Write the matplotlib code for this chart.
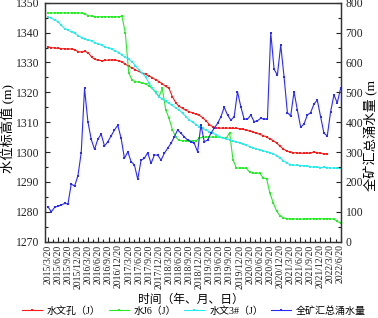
import numpy as np
import matplotlib
matplotlib.use('Agg')
import matplotlib.pyplot as plt
from matplotlib.ticker import MultipleLocator

plt.rcParams['font.family'] = ['Liberation Serif', 'Noto Sans CJK SC']

# quarterly tick labels
tick_labels = ['%d/%d/20' % (y, m) for y in range(2015, 2023) for m in (3, 6, 9, 12)]
tick_labels = tick_labels[:30]

# 水文孔(J) water level, monthly from 2015/3
red = [1335.1, 1335.0, 1334.8, 1334.7, 1334.6, 1334.6, 1334.5, 1334.5, 1334.2, 1333.6,
       1333.5, 1333.7, 1333.2, 1331.8, 1331.0, 1330.7, 1330.6, 1330.7, 1330.8, 1330.8,
       1330.8, 1330.6, 1330.2, 1329.4, 1328.7, 1328.2, 1327.5, 1327.0, 1326.5, 1326.0,
       1325.5, 1324.9, 1324.2, 1323.6, 1322.8, 1322.0, 1321.3, 1318.5, 1316.5, 1315.3,
       1314.6, 1314.0, 1313.5, 1313.1, 1312.7, 1312.3, 1311.5, 1310.5, 1309.2, 1308.5,
       1308.1, 1308.0, 1308.0, 1308.0, 1308.0, 1307.9, 1307.9, 1307.8, 1307.6, 1307.3,
       1307.0, 1306.7, 1306.3, 1305.9, 1305.5, 1305.0, 1304.4, 1303.8, 1303.0, 1302.0,
       1301.0, 1300.3, 1300.0, 1299.8, 1299.7, 1299.6, 1299.6, 1299.6, 1299.7, 1300.0,
       1299.8, 1299.6, 1299.4, 1299.3]

# 水J6(J)
green = [1346.4, 1346.6, 1346.6, 1346.6, 1346.6, 1346.6, 1346.6, 1346.6, 1346.6, 1346.6,
         1346.5, 1346.1, 1345.7, 1345.5, 1345.3, 1345.3, 1345.3, 1345.3, 1345.3, 1345.3,
         1345.3, 1345.3, 1345.5, 1339.8, 1326.6, 1324.0, 1323.6, 1323.4, 1323.1, 1322.8,
         1322.2, 1321.3, 1320.2, 1318.5, 1321.3, 1314.2, 1311.3, 1307.5, 1305.0, 1303.9,
         1303.8, 1303.8, 1303.8, 1303.8, 1303.8, 1304.6, 1305.0, 1305.0, 1305.0, 1305.0,
         1305.0, 1304.9, 1304.8, 1304.6, 1306.5, 1297.5, 1294.7, 1294.6, 1294.6, 1294.6,
         1293.2, 1292.9, 1292.9, 1292.9, 1291.3, 1291.1, 1286.2, 1282.9, 1280.2, 1278.6,
         1278.0, 1277.7, 1277.7, 1277.6, 1277.6, 1277.5, 1277.6, 1277.7, 1277.7, 1277.7,
         1277.7, 1277.7, 1277.7, 1277.7, 1277.6, 1277.6, 1276.8, 1276.2]

# 水文3#(J)
cyan = [1345.3, 1344.8, 1344.2, 1343.6, 1342.4, 1341.3, 1340.8, 1340.2, 1339.7, 1339.0,
        1338.3, 1337.7, 1337.5, 1337.1, 1336.6, 1336.2, 1335.7, 1335.2, 1334.8, 1334.4,
        1333.9, 1333.3, 1332.5, 1331.7, 1331.0, 1330.3, 1328.9, 1327.6, 1326.4, 1325.2,
        1323.2, 1321.3, 1319.9, 1318.5, 1317.7, 1317.0, 1316.3, 1315.6, 1314.8, 1314.1,
        1313.0, 1311.9, 1310.7, 1310.0, 1309.2, 1308.5, 1307.9, 1307.3, 1306.8, 1306.3,
        1305.7, 1305.2, 1304.8, 1304.4, 1304.0, 1303.7, 1303.4, 1303.1, 1302.7, 1302.2,
        1301.8, 1301.4, 1301.0, 1300.7, 1300.4, 1300.1, 1299.8, 1299.3, 1298.8, 1298.0,
        1297.1, 1296.3, 1295.8, 1295.6, 1295.6, 1295.5, 1295.5, 1295.4, 1295.1, 1294.9,
        1294.9, 1294.8, 1294.9, 1294.8, 1294.7, 1294.6, 1294.6, 1294.5]

# 全矿汇总涌水量 (right axis)
blue = [117, 100, 115, 119, 123, 128, 126, 193, 186, 220,
        298, 513, 402, 343, 309, 343, 360, 320, 335, 354,
        374, 390, 346, 279, 301, 268, 257, 209, 273, 279,
        298, 262, 290, 290, 273, 296, 313, 329, 351, 374,
        363, 351, 340, 335, 329, 301, 391, 335, 340, 363,
        380, 396, 418, 450, 424, 407, 418, 502, 452, 410,
        410, 424, 402, 405, 413, 410, 410, 700, 577, 558,
        658, 552, 432, 421, 502, 441, 383, 394, 424, 432,
        461, 474, 418, 363, 354, 435, 491, 465, 513]

fig = plt.figure(figsize=(3.78, 3.18), dpi=100)
ax = fig.add_axes([0.118, 0.240, 0.783, 0.7515])
ax2 = ax.twinx()

kw = dict(lw=0.8, marker='s', ms=1.6, mew=0)
l1, = ax.plot(np.arange(len(red)), red, color='#ff1a1a', label='水文孔（J）', **kw)
l2, = ax.plot(np.arange(len(green)), green, color='#22ee22', label='水J6（J）', **kw)
l3, = ax.plot(np.arange(len(cyan)), cyan, color='#22eeee', label='水文3#（J）', **kw)
l4, = ax2.plot(np.linspace(0, 87, len(blue)), blue, color='#2a2aff', label='全矿汇总涌水量', **kw)

ax.set_xlim(-1, 87)
ax.set_ylim(1270, 1350)
ax2.set_ylim(0, 800)
ax.set_xticks(np.arange(0, 88, 3))
ax.set_xticklabels(tick_labels, rotation=90)
ax.xaxis.set_minor_locator(MultipleLocator(1.5))
ax.yaxis.set_minor_locator(MultipleLocator(5))
ax2.yaxis.set_minor_locator(MultipleLocator(50))
ax.yaxis.set_major_locator(MultipleLocator(10))
ax2.yaxis.set_major_locator(MultipleLocator(100))

for a in (ax, ax2):
    a.tick_params(which='both', direction='in', labelsize=8.4, colors='#222222', width=0.8)
    a.tick_params(which='major', length=3.5)
    a.tick_params(which='minor', length=2)
    for s in a.spines.values():
        s.set_linewidth(0.9)
        s.set_color('#333333')
ax.tick_params(axis='x', labelsize=7, pad=2)
ax.tick_params(top=False, which='both')

# axis titles placed as in the original (right one is cut after "(m")
fig.text(0.022, 0.735, '水位标高值 (m)', rotation=90, ha='center', va='top', fontsize=9.5)
fig.text(0.982, 0.40, '全矿汇总涌水量 (m', rotation=90, ha='center', va='bottom', fontsize=9.5)

fig.text(0.505, 0.058, '时间（年、月、日）', ha='center', va='center', fontsize=8.5)
fig.legend(handles=[l1, l2, l3, l4], loc='center', bbox_to_anchor=(0.513, 0.022),
           ncol=4, frameon=False, fontsize=7.2, handlelength=2.0, columnspacing=0.8,
           handletextpad=0.5, markerscale=1.2, borderpad=0)

fig.savefig('out.png', dpi=100)
